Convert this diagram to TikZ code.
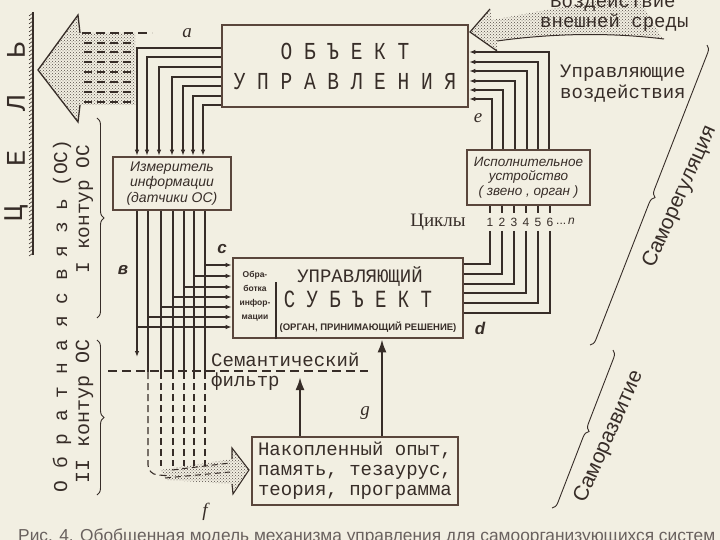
\documentclass[tikz,border=0pt]{standalone}
\usepackage{fontspec}
\setmainfont{Liberation Serif}
\setsansfont{Liberation Sans}
\setmonofont{Liberation Mono}
\usetikzlibrary{arrows.meta,patterns,decorations.pathreplacing,calc}
\definecolor{paper}{RGB}{242,239,226}
\definecolor{ink}{RGB}{55,45,40}
\definecolor{boxc}{RGB}{90,70,60}
\begin{document}
\begin{tikzpicture}[x=1pt,y=-1pt,
  box/.style={draw=boxc, line width=2.6pt, inner sep=0pt, fill=paper, text=ink},
  wire/.style={draw=ink, line width=1.1pt},
  arr/.style={wire, -{Latex[length=6pt,width=4.5pt]}},
  dwire/.style={wire, dash pattern=on 7pt off 4pt},
  bigarr/.style={draw=ink, line width=2.2pt, -{Latex[length=13pt,width=9pt]}},
  lbl/.style={text=ink, font=\sffamily\itshape\bfseries\fontsize{17}{17}\selectfont, inner sep=0pt},
  lbll/.style={text=ink, font=\rmfamily\itshape\fontsize{19}{19}\selectfont, inner sep=0pt},
  mono/.style={text=ink, inner sep=0pt, font=\ttfamily\fontsize{19}{20}\selectfont},
  curly/.style={draw=ink, line width=0.9pt, decorate, decoration={brace, mirror, amplitude=7pt}},
  stip/.style={pattern=crosshatch dots, pattern color=ink!85}
]
\fill[paper] (0,0) rectangle (720,540);
\useasboundingbox (0,0) rectangle (720,540);
\clip (0,0) rectangle (720,540);

% ---------- boxes ----------
\node[box, minimum width=246pt, minimum height=82pt, align=center,
      font=\ttfamily\fontsize{19.5}{30}\selectfont] (obj) at (345,66)
  {\scalebox{1}[1.25]{О Б Ъ Е К Т}\\\scalebox{1}[1.25]{У П Р А В Л Е Н И Я}};
\node[box, minimum width=118pt, minimum height=53pt, align=center,
      font=\sffamily\itshape\fontsize{14}{15.5}\selectfont] (izm) at (172,183.5)
  {Измеритель\\информации\\(датчики ОС)};
\node[box, minimum width=123pt, minimum height=55pt, align=center,
      font=\sffamily\itshape\fontsize{13.5}{14.5}\selectfont] (isp) at (528.5,177.5)
  {Исполнительное\\устройство\\( звено , орган )};
\node[box, minimum width=230pt, minimum height=80pt] (us) at (348,298) {};
\node[box, minimum width=206pt, minimum height=68pt, align=left,
      font=\ttfamily\fontsize{19}{20}\selectfont] (nak) at (355,471)
  {Накопленный опыт,\\память, тезаурус,\\теория, программа};

% contents of the controlling subject box
\draw[wire] (us.south -| 276,0) -- (276,282);
\node[text=ink, align=center, inner sep=0pt, font=\sffamily\bfseries\fontsize{8.5}{14}\selectfont] (obr) at (255,296) {Обра-\\ботка\\инфор-\\мации};
\node[mono] (us1) at (360,277) {УПРАВЛЯЮЩИЙ};
\node[mono] (us2) at (358,299) {\scalebox{1}[1.3]{С У Б Ъ Е К Т}};
\node[text=ink, inner sep=0pt, font=\sffamily\bfseries\fontsize{9.5}{10}\selectfont] (us3) at (368,327) {(ОРГАН, ПРИНИМАЮЩИЙ РЕШЕНИЕ)};

% ---------- object -> measuring device ----------
\foreach \yy/\xx in {48/137,57/147,67/159,77/172,86/183,96/193,105/203}
  \draw[arr] (obj.west |- 0,\yy) -| (izm.north -| \xx,0);

% ---------- executive device -> object ----------
\foreach \xx/\yy in {549/52,538/62,527/71,515/81,503/90,492/99}
  \draw[arr] (isp.north -| \xx,0) |- (obj.east |- 0,\yy);

% ---------- measuring device -> subject ----------
\foreach \xx/\yy in {205/265,194/276,184/287,173/297,161/307}{
  \draw[wire] (izm.south -| \xx,0) -- (\xx,372);
  \draw[dwire] (\xx,372) -- (\xx,466);
  \draw[arr] (\xx,\yy) -- (us.west |- 0,\yy);
}
\draw[wire] (izm.south -| 148,0) -- (148,372);
\draw[dwire, rounded corners=9pt] (148,372) -- (148,474) -- (170,476);
\draw[arr] (148,317) -- (us.west |- 0,317);
\draw[arr] (izm.south -| 137,0) -- (137,357);
\draw[arr] (137,327) -- (us.west |- 0,327);

% ---------- executive device <-> subject (cycles) ----------
\node[text=ink, inner sep=0pt, font=\rmfamily\fontsize{19}{19}\selectfont] (cyc) at (438,222) {Циклы};
\foreach \xx/\yy/\nn in {490/264/1,502/274/2,514/284/3,526/293/4,538/303/5,550/313/6}{
  \draw[wire] (isp.south -| \xx,0) -- (\xx,213);
  \node[text=ink, inner sep=0pt, font=\sffamily\fontsize{12}{12}\selectfont] (n\nn) at (\xx,222) {\nn};
  \draw[wire] (\xx,231) |- (us.east |- 0,\yy);
}
\node[text=ink, inner sep=0pt, anchor=west, font=\sffamily\fontsize{12}{12}\selectfont] (nn) at (556,221) {...\,\textit{n}};

% ---------- accumulated experience ----------
\coordinate (filt) at (300,377);
\draw[bigarr] (nak.north -| 300,0) -- (filt);
\draw[bigarr] (nak.north -| 382,0) -- (us.south -| 382,0);

% semantic filter
\draw[ink, line width=1.3pt, dash pattern=on 9pt off 5pt] (108,371) -- (368,371);
\node[mono, anchor=base west] (sem1) at (211,366) {Семантический};
\node[mono, anchor=base west] (sem2) at (211,386) {фильтр};

% ---------- bottom stippled arrow ----------
\fill[stip] (160,470) -- (232,459) -- (232,448) -- (249,470) -- (233,494) -- (232,484) -- (168,480) -- cycle;
\draw[ink, line width=1.1pt] (232,459) -- (232,448) -- (249,470) -- (233,494) -- (232,484);
\draw[ink, line width=1pt, dash pattern=on 6pt off 4pt] (165,478) -- (230,472);
\draw[ink, line width=1pt, dash pattern=on 6pt off 4pt] (172,470) -- (230,463);

% ---------- goal (ЦЕЛЬ) ----------
\draw[ink, line width=1.6pt] (33,12) -- (33,255);
\foreach \t in {13,17,...,253}
  \draw[ink, line width=0.6pt] (33,\t) -- (29,\t+3);
\foreach \yy/\ch in {213/Ц,158/Е,103/Л,50/Ь}
  \node[text=ink, rotate=90, inner sep=0pt, font=\ttfamily\fontsize{27}{27}\selectfont] at (16,\yy) {\ch};

% big left stippled arrow
\fill[stip] (38,70) -- (78,15) -- (80,33) -- (135,33) -- (135,105) -- (80,105) -- (78,122) -- cycle;
\draw[ink, line width=1.3pt] (80,33) -- (78,15) -- (38,70) -- (78,122) -- (80,105);
\draw[ink, line width=1.3pt, dash pattern=on 9pt off 5pt] (82,33) -- (152,33);
\foreach \yy in {43,52,62,72,82,92,102}
  \draw[ink, line width=1.1pt, dash pattern=on 8pt off 5pt] (84,\yy) -- (133,\yy);

% ---------- feedback texts ----------
\node[text=ink, rotate=90, anchor=base, inner sep=0pt, font=\ttfamily\fontsize{19.6}{20}\selectfont] (os) at (67,316) {О б р а т н а я  с в я з ь (ОС)};
\node[text=ink, rotate=90, anchor=base, inner sep=0pt, font=\ttfamily\fontsize{19.4}{20}\selectfont] (k1) at (89,209) {I контур ОС};
\node[text=ink, rotate=90, anchor=base, inner sep=0pt, font=\ttfamily\fontsize{20}{20}\selectfont] (k2) at (89,411) {II контур ОС};
\draw[curly] (97,318) -- (97,118);
\draw[curly] (97,495) -- (97,340);

% ---------- environment ----------
\fill[stip] (470,32) -- (490,9) -- (492,20) -- (600,0) -- (640,0) -- (662,38) .. controls (600,31) and (540,35) .. (497,41) -- (497,51) -- cycle;
\draw[ink, line width=1.2pt] (490,9) -- (470,32) -- (497,51);
\draw[ink, line width=1pt] (497,41) .. controls (540,35) and (600,31) .. (664,39);
\node[mono, anchor=base west] (env1) at (550,8) {Воздействие};
\node[mono, anchor=base west] (env2) at (540,28) {внешней среды};
\node[mono, anchor=base west] (upr1) at (560,78) {Управляющие};
\node[mono, anchor=base west] (upr2) at (560,99) {воздействия};

% ---------- self-regulation / self-development ----------
\draw[curly] (590,345) -- (707,45);
\draw[curly] (552,508) -- (613,350);
\node[text=ink, rotate=66, inner sep=0pt, font=\sffamily\fontsize{21}{21}\selectfont] (sreg) at (680,197) {Саморегуляция};
\node[text=ink, rotate=66, inner sep=0pt, font=\sffamily\fontsize{21}{21}\selectfont] (sraz) at (609,437) {Саморазвитие};

% ---------- letter labels ----------
\node[lbll] (la) at (187,33) {a};
\node[lbl] (lb) at (123,270) {в};
\node[lbl] (lc) at (222,249) {c};
\node[lbl] (ld) at (480,328) {d};
\node[lbll] (le) at (478,118) {e};
\node[lbll] (lf) at (205,512) {f};
\node[lbll] (lg) at (365,413) {g};

% ---------- caption (cut off) ----------
\node[anchor=base west, inner sep=0pt, text=ink!75] (cap) at (18,541)
  {\resizebox{697pt}{!}{\sffamily\fontsize{17}{17}\selectfont Рис. 4. Обобщенная модель механизма управления для самоорганизующихся систем}};
\end{tikzpicture}
\end{document}
